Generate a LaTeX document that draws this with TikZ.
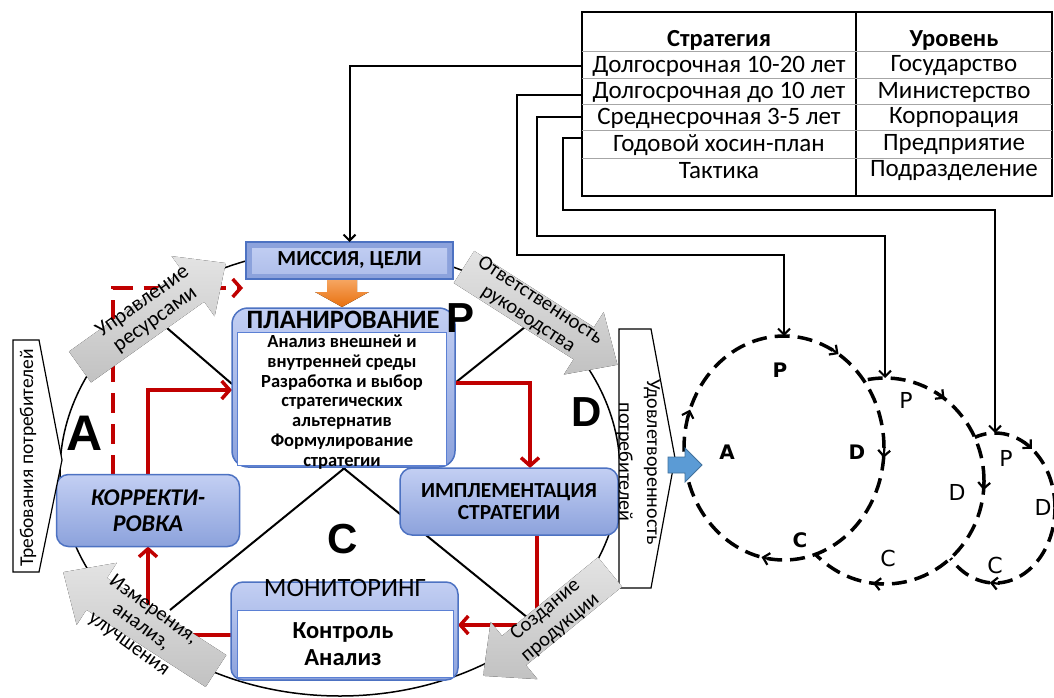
\documentclass[tikz,border=0pt]{standalone}
\usepackage{fontspec}
\setmainfont{Carlito}
\newfontfamily\arialf{Liberation Sans}
\newfontfamily\dvs{DejaVu Sans}
\usetikzlibrary{arrows.meta,calc,shapes.geometric,backgrounds}
\definecolor{redc}{HTML}{C00000}
\definecolor{bluelt}{HTML}{C3CFF3}
\definecolor{bluedk}{HTML}{8CA2DC}
\definecolor{bborder}{HTML}{4D72C2}
\definecolor{innerb}{HTML}{5B80D4}
\definecolor{orlt}{HTML}{F6A560}
\definecolor{ordk}{HTML}{E8700F}
\definecolor{arrblue}{HTML}{5B9BD5}
\definecolor{arrbluedk}{HTML}{41719C}
\newcommand\fsz[2]{\fontsize{#1pt}{#2pt}\selectfont}
\newcommand\grayarr[4]{%
 \begin{scope}[shift={(#1,#2)}, rotate=#3]
  \fill[garrow] (0,-19) -- ({#4-40},-19) -- ({#4-40},-37) -- (#4,0) -- ({#4-40},37) -- ({#4-40},19) -- (0,19) -- cycle;
 \end{scope}}
\tikzset{
 blk/.style={line width=2pt, draw=black},
 conn/.style={line width=2pt, draw=black, -{Straight Barb[length=6pt,width=12pt]}},
 redar/.style={draw=redc, line width=3.5pt, -{Straight Barb[length=8pt,width=18pt]}},
 reddash/.style={redar, dash pattern=on 20pt off 11pt},
 garrow/.style={top color=gray!22, bottom color=gray!48, draw=none},
 rbox/.style={rounded corners=12pt, top color=bluelt, bottom color=bluedk, draw=bborder, line width=1.5pt, inner sep=0pt, outer sep=0pt},
 mbox/.style={fill=bluedk, draw=bborder, line width=1.5pt, inner sep=0pt, outer sep=0pt},
 wbox/.style={fill=white, draw=innerb, line width=1pt, inner sep=0pt, outer sep=0pt},
 cyc/.style={ellipse, fill=white, draw=black, line width=3.5pt, dash pattern=on 15pt off 8pt, inner sep=0pt, outer sep=0pt},
 carr/.style={line width=2.2pt, -{Straight Barb[length=6pt,width=12pt]}},
 bigl/.style={font=\arialf\bfseries\fsz{42}{42}},
 pbox/.style={fill=white, draw=black, line width=1.2pt},
 tabtxt/.style={font=\fsz{25}{27}},
 c1l/.style={font=\dvs\bfseries\fsz{20}{20}},
 c2l/.style={font=\dvs\fsz{22}{22}},
}
\begin{document}
\begin{tikzpicture}[x=1pt,y=-1pt]
\useasboundingbox (0,0) rectangle (1054,698);

\begin{scope}[on background layer]
 \node[ellipse, draw=black, line width=1.5pt, minimum width=560pt, minimum height=448pt, inner sep=0pt] (big) at (340,472) {};
\end{scope}

% table
\draw[line width=1.8pt] (582,12) rectangle (1052,196);
\draw[line width=1.8pt] (856,12) -- (856,196);
\foreach \yy in {52,79,105,131,158} \draw[gray!70, line width=1pt] (582,\yy) -- (1052,\yy);
\node[font=\fsz{24.5}{26}\bfseries] (h1) at (719,40) {Стратегия};
\node[font=\fsz{24.5}{26}\bfseries] (h2) at (954,40) {Уровень};
\node[tabtxt] (a1) at (719,66) {Долгосрочная 10-20 лет};
\node[tabtxt] (a2) at (719,92) {Долгосрочная до 10 лет};
\node[tabtxt] (a3) at (719,118) {Среднесрочная 3-5 лет};
\node[tabtxt] (a4) at (719,145) {Годовой хосин-план};
\node[tabtxt] (a5) at (719,171) {Тактика};
\node[tabtxt] (b1) at (954,66) {Государство};
\node[tabtxt] (b2) at (954,92) {Министерство};
\node[tabtxt] (b3) at (954,118) {Корпорация};
\node[tabtxt] (b4) at (954,145) {Предприятие};
\node[tabtxt] (b5) at (954,171) {Подразделение};
\coordinate (s1) at (582,66);
\coordinate (s2) at (582,95);
\coordinate (s3) at (582,117);
\coordinate (s4) at (582,138);

% mission
\node[mbox, minimum width=207pt, minimum height=37pt, font=\fsz{21.5}{24}\bfseries,
  path picture={\shade[top color=bluelt, bottom color=bluelt!60!bluedk] ($(path picture bounding box.south west)+(6pt,6pt)$) rectangle ($(path picture bounding box.north east)+(-6pt,-6pt)$);}] (miss) at (349.5,260.5) {МИССИЯ, ЦЕЛИ};
\fill[top color=orlt, bottom color=ordk] (327,280) -- (357,280) -- (357,292) -- (369,292) -- (342,307) -- (315,292) -- (327,292) -- cycle;

% planning
\node[rbox, rounded corners=16pt, minimum width=223pt, minimum height=159pt] (plan) at (343.5,387.5) {};
\node[wbox, minimum width=209pt, minimum height=133pt] (planin) at (341.5,398.5) {};
\node[font=\fsz{26.5}{28}\bfseries] (planh) at (343,320) {ПЛАНИРОВАНИЕ};
\node[font=\fsz{18.5}{19.8}\bfseries, align=center] (planb) at (342,402) {Анализ внешней и\\внутренней среды\\Разработка и выбор\\стратегических\\альтернатив\\Формулирование\\стратегии};

% implementation
\node[rbox, minimum width=218pt, minimum height=67pt, font=\fsz{21.5}{22}\bfseries, align=center] (impl) at (509,501.5) {ИМПЛЕМЕНТАЦИЯ\\СТРАТЕГИИ};
% correction
\node[rbox, minimum width=183pt, minimum height=72pt, font=\fsz{24}{26}\bfseries\itshape, align=center] (korr) at (148,510.5) {КОРРЕКТИ-\\РОВКА};
% monitoring
\node[rbox, minimum width=227pt, minimum height=98pt] (mon) at (344.5,631) {};
\node[wbox, minimum width=216pt, minimum height=67pt] (monin) at (345,643.5) {};
\node[font=\fsz{26.5}{28}] (monh) at (345,588) {МОНИТОРИНГ};
\node[font=\fsz{24.5}{27}\bfseries, align=center] (monb) at (343,644) {Контроль\\Анализ};

% side boxes
\draw[pbox] (13,340) -- (39,340) -- (62,460) -- (39,572) -- (13,572) -- cycle;
\node[rotate=90, font=\fsz{19.5}{21}] (treb) at (28,458) {Требования потребителей};
\draw[pbox] (619,329) -- (651,329) -- (675,458) -- (651,588) -- (619,588) -- cycle;
\node[rotate=-90, font=\fsz{20}{28}, align=center] (udov) at (638,462) {Удовлетворенность\\потребителей};

% big letters
\node[bigl] (LP) at (460,318) {P};
\node[bigl] (LD) at (587,412) {D};
\node[font=\arialf\bfseries\fsz{50}{50}] (LA) at (85,433) {A};
\node[bigl] (LC) at (343,539) {C};

% lines under boxes
\coordinate (gA) at (167,328);
\coordinate (gB) at (525,327);
\coordinate (gC) at (170,610);
\coordinate (gD) at (528,618);
\coordinate (dend) at (243,288);
\begin{scope}[on background layer]
 \draw[blk] (gA) -- ($(plan.west)+(0,-3.5)$);
 \draw[blk] ($(plan.east)+(0,-4.5)$) -- (gB);
 \draw[blk] ($(plan.south)+(8.5,-5)$) -- (gC);
 \draw[blk] ($(plan.south)+(-7.5,-5)$) -- (gD);
 \draw[redar] ($(plan.east)+(0,-4.5)$) -| ($(impl.north)+(21,0)$);
 \draw[redar] ($(impl.south)+(28,0)$) |- ($(mon.east)+(0,-6)$);
 \draw[redar] ($(mon.west)+(0,4)$) -| (korr.south);
 \draw[redar] (korr.north) |- ($(plan.west)+(0,2.5)$);
 \draw[reddash] ($(korr.north)+(-35,0)$) |- (dend);
\end{scope}

% gray arrows
\grayarr{80}{367}{35.5}{179}
\grayarr{464}{267}{-32.5}{182}
\grayarr{216}{671}{147.1}{182}
\grayarr{610}{572}{219.3}{164}
\node[rotate=35.5, font=\fsz{21.5}{22}, align=center] (gt1) at (149,311) {Управление\\ресурсами};
\node[rotate=-33, font=\fsz{20.5}{22}, align=center] (gt2) at (534,310) {Ответственность\\руководства};
\node[rotate=-36, font=\fsz{20.5}{21}, align=center] (gt3) at (141,627) {Измерения,\\анализ,\\улучшения};
\node[rotate=40, font=\fsz{20.5}{23}, align=center] (gt4) at (553,619) {Создание\\продукции};

% PDCA circles
\node[cyc, minimum width=120pt, minimum height=150pt] (c3) at (995,508) {};
\node[cyc, minimum width=198pt, minimum height=206pt] (c2) at (885,481) {};
\node[cyc, minimum width=200pt, minimum height=224pt] (c1) at (784,448) {};
\draw[carr] (830.4,348.2) -- (838.5,354.1);
\draw[carr] (884.4,447.8) -- (883.6,457.8);
\draw[carr] (771.2,559.6) -- (761.5,557.1);
\draw[carr] (686.9,419.2) -- (690,409.7);
\draw[carr] (936.7,392.5) -- (944.6,398.7);
\draw[carr] (984.4,480) -- (983.6,490);
\draw[carr] (882.8,584.5) -- (872.9,583.2);
\draw[carr] (1024.7,441.9) -- (1031.9,448.9);
\draw[carr] (999.7,583.8) -- (989.8,582.7);
\node[c1l] (c1p) at (780,370) {P};
\node[c1l] (c1d) at (857,452) {D};
\node[c1l] (c1a) at (727,452) {A};
\node[c1l] (c1c) at (800,540) {C};
\node[c2l] (c2p) at (906,400) {P};
\node[c2l] (c2d) at (957,492) {D};
\node[c2l] (c2c) at (888,558) {C};
\node[c2l] (c3p) at (1006,458) {P};
\node[c2l] (c3d) at (1043,507) {D};
\node[c2l] (c3c) at (995,565) {C};

% blue arrow into the cycle
\draw[fill=arrblue, draw=arrbluedk, line width=0.8pt] (668,457) -- (685,457) -- (685,448) -- (702,465) -- (685,482) -- (685,473) -- (668,473) -- cycle;

% connectors from table
\draw[conn] (s1) -| (miss.north);
\draw[conn] (s2) -| (517,255) -| (c1.north);
\draw[conn] (s3) -| (537,236) -| (c2.north);
\draw[conn] (s4) -| (563,210) -| (c3.north);
\end{tikzpicture}
\end{document}
